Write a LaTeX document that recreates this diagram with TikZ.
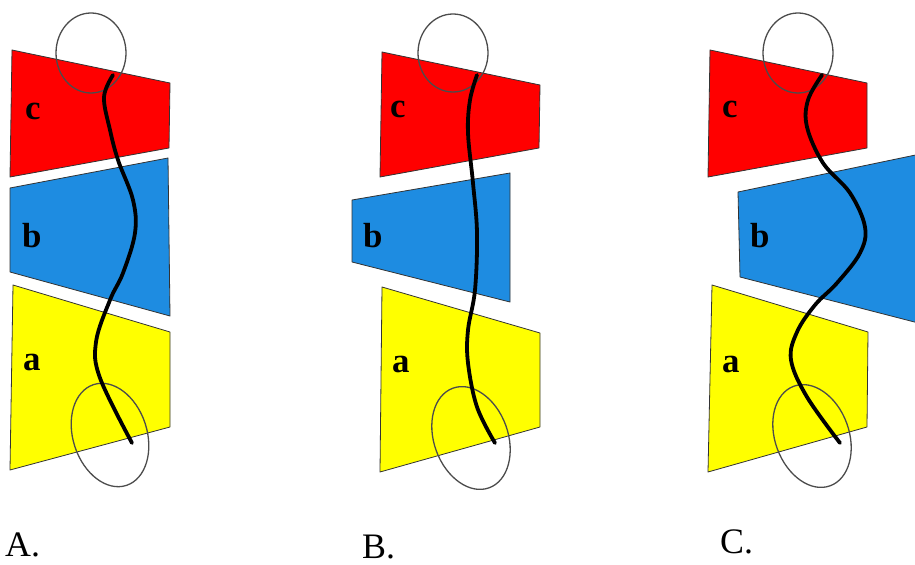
\documentclass[tikz,border=0pt]{standalone}
\usepackage{fontspec}
\setmainfont{Liberation Serif}
\usepackage{xcolor}
\usepackage{tikz}
\usetikzlibrary{positioning,calc}

\definecolor{pieceRed}{RGB}{255,0,0}
\definecolor{pieceBlue}{RGB}{30,140,225}
\definecolor{pieceYellow}{RGB}{255,255,0}

\begin{document}
\begin{tikzpicture}[
    x=1bp, y=-1bp,
    redpiece/.style={fill=pieceRed, draw=black!80, line width=0.8bp, line join=round},
    bluepiece/.style={fill=pieceBlue, draw=black!80, line width=0.8bp, line join=round},
    yellowpiece/.style={fill=pieceYellow, draw=black!80, line width=0.8bp, line join=round},
    ring/.style={draw=black!70, line width=1.3bp},
    cord/.style={draw=black, line width=3.8bp, line cap=round},
    piecelabel/.style={font=\fontsize{35}{36}\selectfont\bfseries, anchor=base west, inner sep=0pt},
    panellabel/.style={font=\fontsize{36}{40}\selectfont, anchor=base west, inner sep=0pt}
]
    \useasboundingbox (0,0) rectangle (915,565);

    % panel A
    \filldraw [redpiece] (12,50) -- (170,83) -- (169,148) -- (10,177) -- cycle;
    \filldraw [bluepiece] (10,188) -- (168,158) -- (170,316) -- (10,272) -- cycle;
    \filldraw [yellowpiece] (13,285) -- (170,332) -- (170,427) -- (10,470) -- cycle;
    \draw [ring] (91,53) ellipse [x radius=35, y radius=40];
    \draw [ring, rotate around={18:(110,435)}] (110,435) ellipse [x radius=37, y radius=53];
    \draw [cord] plot [smooth, tension=0.6] coordinates {(113,75) (104,97) (110,130) (118,160) (133,200) (135,233) (123,273) (110,300) (96,342) (100,378) (132,443)};
    \node [piecelabel] (cA) at (25,120) {c};
    \node [piecelabel] (bA) at (22,248) {b};
    \node [piecelabel] (aA) at (23,370) {a};
    \node [panellabel] (labA) at (5,556) {A.};

    % panel B
    \filldraw [redpiece] (382,52) -- (540,85) -- (539,148) -- (380,177) -- cycle;
    \filldraw [bluepiece] (352,200) -- (510,173) -- (510,302) -- (352,262) -- cycle;
    \filldraw [yellowpiece] (382,287) -- (540,333) -- (540,427) -- (380,472) -- cycle;
    \draw [ring] (453,53) ellipse [x radius=35, y radius=39];
    \draw [ring, rotate around={20:(471,438)}] (471,438) ellipse [x radius=37, y radius=53];
    \draw [cord] plot [smooth, tension=0.6] coordinates {(477,75) (470,100) (468,133) (473,183) (477,233) (475,290) (468,330) (468,363) (477,407) (495,443)};
    \node [piecelabel] (cB) at (390,118) {c};
    \node [piecelabel] (bB) at (363,248) {b};
    \node [piecelabel] (aB) at (392,372) {a};
    \node [panellabel] (labB) at (362,558) {B.};

    % panel C
    \begin{scope}
        \clip (0,0) rectangle (915,565);
        \filldraw [bluepiece] (738,192) -- (930,152) -- (930,326) -- (740,277) -- cycle;
    \end{scope}
    \filldraw [redpiece] (710,50) -- (867,83) -- (867,148) -- (708,177) -- cycle;
    \filldraw [yellowpiece] (712,285) -- (868,332) -- (867,427) -- (708,472) -- cycle;
    \draw [ring] (798,53) ellipse [x radius=35, y radius=40];
    \draw [ring, rotate around={20:(812,436)}] (812,436) ellipse [x radius=37, y radius=53];
    \draw [cord] plot [smooth, tension=0.6] coordinates {(822,75) (808,100) (807,127) (823,163) (850,193) (865,227) (860,253) (837,283) (815,305) (797,332) (791,360) (807,397) (840,443)};
    \node [piecelabel] (cC) at (722,118) {c};
    \node [piecelabel] (bC) at (750,248) {b};
    \node [piecelabel] (aC) at (722,372) {a};
    \node [panellabel] (labC) at (720,553) {C.};
\end{tikzpicture}
\end{document}
